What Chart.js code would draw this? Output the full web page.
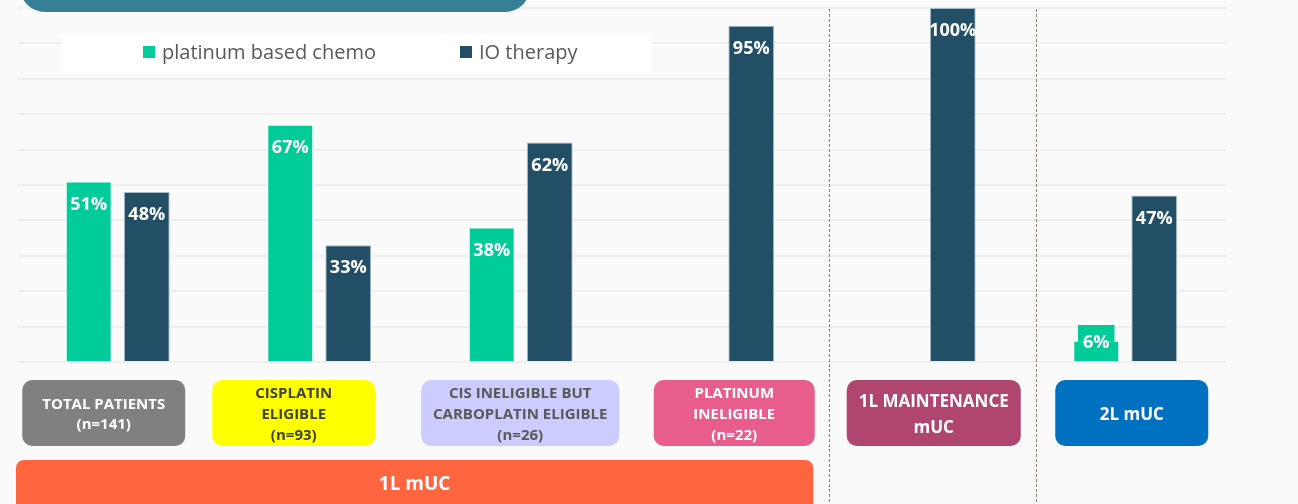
<!DOCTYPE html>
<html>
<head>
<meta charset="utf-8">
<script src="https://cdn.jsdelivr.net/npm/chart.js@4.4.1/dist/chart.umd.min.js"></script>
<style>
  html, body { margin: 0; padding: 0; background: #fafafa; }
  #wrap { position: relative; width: 1298px; height: 504px; }
</style>
</head>
<body>
<div id="wrap"><canvas id="chart" width="1298" height="504"></canvas></div>
<script>
// --- DATA ---
const categories = [
  ['TOTAL PATIENTS', '(n=141)'],
  ['CISPLATIN', 'ELIGIBLE', '(n=93)'],
  ['CIS INELIGIBLE BUT', 'CARBOPLATIN ELIGIBLE', '(n=26)'],
  ['PLATINUM', 'INELIGIBLE', '(n=22)'],
  ['1L MAINTENANCE', 'mUC'],
  ['2L mUC']
];
const seriesNames = ['platinum based chemo', 'IO therapy'];
const chemoValues = [51, 67, 38, null, null, 6];
const ioValues = [48, 33, 62, 95, 100, 47];
const yMin = 0, yMax = 100, yStep = 10;
const groupLabel = '1L mUC';
const groupSpan = 4; // first four categories belong to 1L mUC

// --- STYLE ---
const colors = ['#00cc99', '#224f65'];
const boxStyles = [
  { off: -14, w: 163, bg: '#808080', fg: '#ffffff', size: 15, lh: 20 },
  { off: -25.5, w: 163, bg: '#ffff00', fg: '#404040', size: 15, lh: 21 },
  { off: -0.5, w: 198, bg: '#ccccff', fg: '#595959', size: 15, lh: 21 },
  { off: 12, w: 161, bg: '#e85d8c', fg: '#ffffff', size: 15, lh: 21 },
  { off: 10, w: 174, bg: '#b0466f', fg: '#ffffff', size: 17, lh: 26 },
  { off: 6.5, w: 153, bg: '#0070c0', fg: '#ffffff', size: 17, lh: 26 }
];
const separators = [{ at: 3.5, off: 6 }, { at: 4.5, off: 11 }];
const FONT = '"Open Sans", "Noto Sans", sans-serif';

const $ = (id) => document.getElementById(id);

const decor = {
  id: 'decor',
  beforeDraw(chart) {
    const ctx = chart.ctx;
    ctx.save();
    ctx.fillStyle = '#fafafa';
    ctx.fillRect(0, 0, chart.width, chart.height);
    ctx.restore();
  },
  afterDatasetsDraw(chart) {
    const ctx = chart.ctx;
    ctx.save();
    ctx.font = 'bold 18px ' + FONT;
    ctx.textAlign = 'center';
    ctx.textBaseline = 'middle';
    chart.data.datasets.forEach((ds, i) => {
      chart.getDatasetMeta(i).data.forEach((bar, j) => {
        const v = ds.data[j];
        if (v == null) return;
        const txt = v + '%';
        const y = Math.min(bar.y + 21, bar.base - 20);
        if (bar.base - bar.y < 36) {
          const w = ctx.measureText(txt).width + 10;
          ctx.fillStyle = ds.backgroundColor;
          ctx.fillRect(bar.x - w / 2, y - 16, w, bar.y - (y - 16) + 1);
        }
        ctx.fillStyle = '#ffffff';
        ctx.fillText(txt, bar.x, y + 2);
      });
    });
    ctx.restore();
  },
  afterDraw(chart) {
    const ctx = chart.ctx;
    const x = chart.scales.x;
    const area = chart.chartArea;
    ctx.save();

    // teal header strip
    ctx.fillStyle = '#367f95';
    ctx.beginPath();
    ctx.roundRect(20, -40, 510, 52, 25);
    ctx.fill();

    // legend
    ctx.fillStyle = '#ffffff';
    ctx.fillRect(61, 33, 591, 39);
    ctx.font = '20px ' + FONT;
    ctx.textBaseline = 'middle';
    ctx.textAlign = 'left';
    const legX = [143, 460];
    chart.data.datasets.forEach((ds, i) => {
      ctx.fillStyle = ds.backgroundColor;
      ctx.fillRect(legX[i], 46, 12, 12);
      ctx.fillStyle = '#595959';
      ctx.fillText(ds.label, legX[i] + 19, 53);
    });

    // dashed separators
    ctx.strokeStyle = '#8c7f72';
    ctx.lineWidth = 1;
    ctx.setLineDash([3, 2]);
    separators.forEach(s => {
      const px = Math.round(x.getPixelForValue(s.at) + s.off) + 0.5;
      ctx.beginPath();
      ctx.moveTo(px, area.top + 1);
      ctx.lineTo(px, chart.height);
      ctx.stroke();
    });
    ctx.setLineDash([]);

    // category boxes
    ctx.textAlign = 'center';
    categories.forEach((lines, i) => {
      const s = boxStyles[i];
      const cx = x.getPixelForValue(i) + s.off;
      ctx.fillStyle = s.bg;
      ctx.beginPath();
      ctx.roundRect(cx - s.w / 2, 380, s.w, 66, 10);
      ctx.fill();
      ctx.fillStyle = s.fg;
      ctx.font = 'bold ' + s.size + 'px ' + FONT;
      const top = 415 - (lines.length - 1) * s.lh / 2;
      lines.forEach((t, k) => ctx.fillText(t, cx, top + k * s.lh));
    });

    // 1L mUC group bar
    const gx0 = area.left - 1;
    const gx1 = x.getPixelForValue(groupSpan - 1) + 91;
    ctx.fillStyle = '#ff6640';
    ctx.beginPath();
    ctx.roundRect(gx0, 460, gx1 - gx0, 60, 8);
    ctx.fill();
    ctx.fillStyle = '#ffffff';
    ctx.font = 'bold 19px ' + FONT;
    ctx.fillText(groupLabel, (gx0 + gx1) / 2, 485);

    ctx.restore();
  }
};

new Chart($('chart'), {
  type: 'bar',
  data: {
    labels: categories.map(c => c.join(' ')),
    datasets: [
      { label: seriesNames[0], data: chemoValues, backgroundColor: colors[0],
        borderColor: 'rgba(210,255,240,0.7)', borderWidth: 1 },
      { label: seriesNames[1], data: ioValues, backgroundColor: colors[1],
        borderColor: 'rgba(160,185,200,0.9)', borderWidth: 1 }
    ]
  },
  options: {
    responsive: false,
    animation: false,
    devicePixelRatio: 1,
    categoryPercentage: 0.576,
    barPercentage: 0.79,
    layout: { padding: { left: 17, right: 72, top: 8, bottom: 142 } },
    plugins: { legend: { display: false }, tooltip: { enabled: false } },
    scales: {
      x: { display: false },
      y: {
        min: yMin, max: yMax,
        ticks: { display: false, stepSize: yStep },
        border: { display: false },
        grid: { color: '#efefef', lineWidth: 2, drawTicks: false }
      }
    }
  },
  plugins: [decor]
});
</script>
</body>
</html>
